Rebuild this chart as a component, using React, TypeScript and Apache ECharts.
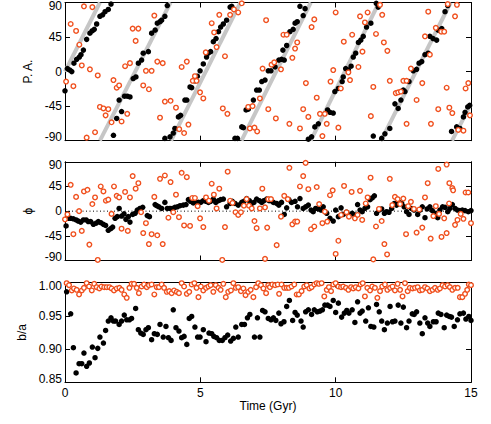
import React, { useEffect, useRef } from 'react';
import * as echarts from 'echarts';

// ---------- data ----------
const timeTicks = [0, 5, 10, 15];
const angleTicks = [-90, -45, 0, 45, 90];
const ratioTicks = [0.85, 0.9, 0.95, 1.0];

// pattern (grey) line segments in panel 1: [t, PA] end points
const patternSegments: number[][][] = [
  [[0, 0], [1.29, 90]],
  [[1.29, -90], [3.9, 90]],
  [[3.92, -90], [6.48, 90]],
  [[6.52, -90], [9.08, 90]],
  [[9.08, -90], [11.6, 90]],
  [[11.68, -90], [14.25, 90]],
  [[14.3, -90], [15, -42]],
];

const paBlack: number[][] = [
  [0.0, -25], [0.09, 4], [0.18, 2], [0.25, 0], [0.33, 11], [0.43, 16], [0.53, 19], [0.59, 22], [0.68, 28], [0.8, 42],
  [0.92, 50], [1.0, 53], [1.08, 55], [1.17, 62], [1.29, 72], [1.39, 74], [1.48, 78], [1.6, 81], [1.7, 88],
  [1.79, -83], [1.91, -61], [2.0, -37], [2.09, -52], [2.2, -32], [2.3, -32], [2.4, -33], [2.52, -9], [2.62, -7],
  [2.71, 11], [2.83, 15], [2.89, 24], [3.08, 26], [3.2, 50], [3.33, 54], [3.41, 63], [3.51, 65], [3.57, 67],
  [3.69, 72], [3.78, 86], [3.69, -87], [3.88, -85], [4.0, -80], [4.06, -74], [4.19, -59], [4.27, -57], [4.43, -37],
  [4.5, -37], [4.62, -20], [4.68, -21], [4.8, -12], [4.89, -6], [4.99, 1], [5.11, 10], [5.23, 19], [5.29, 24],
  [5.38, 26], [5.48, 39], [5.58, 43], [5.67, 52], [5.75, 58], [5.85, 62], [5.97, 67], [6.1, 84], [6.16, 85],
  [6.28, -87], [6.37, -87], [6.53, -72], [6.59, -73], [6.69, -50], [6.77, -49], [6.96, -37], [7.08, -24],
  [7.18, -24], [7.27, -13], [7.39, -11], [7.51, 1], [7.61, 1], [7.76, 6], [7.9, 15], [8.0, 16], [8.1, 15],
  [8.05, 28], [8.19, 34], [8.31, 52], [8.43, 55], [8.5, 63], [8.58, 65], [8.68, 85], [8.8, 73], [8.87, 82],
  [8.99, -88], [9.11, -85], [9.23, -72], [9.36, -68], [9.7, -50], [9.79, -53], [9.91, -54], [9.97, -26],
  [10.1, -22], [10.24, -13], [10.28, -7], [10.37, 4], [10.47, 2], [10.57, 7], [10.65, 19], [10.74, 24],
  [10.84, 38], [10.93, 41], [11.02, 46], [11.14, 58], [11.3, 63], [11.5, 89], [11.57, 84], [11.39, -84],
  [11.7, -87], [11.82, -81], [12.0, -74], [12.19, -42], [12.31, -48], [12.41, -37], [12.5, -24], [12.56, -26],
  [12.71, -13], [12.87, 1], [12.99, 3], [13.08, 11], [13.18, 13], [13.3, 22], [13.42, 24], [13.48, 46],
  [13.6, 43], [13.73, 41], [13.79, 54], [13.92, 56], [14.04, 78], [14.14, 86], [14.28, -78], [14.47, -72],
  [14.59, -74], [14.72, -59], [14.78, -53], [14.88, -46], [14.95, -44],
];

const paOrange: number[][] = [
  [0.04, -13], [0.21, 62], [0.31, -19], [0.41, 53], [0.53, 35], [0.62, 8], [0.7, 85], [0.8, -86], [0.92, 3],
  [1.01, 84], [1.11, -79], [1.21, -5], [1.29, -46], [1.42, -48], [1.5, -57], [1.6, -49], [1.72, -66], [1.79, -11],
  [1.91, -21], [2.0, -18], [2.09, -65], [2.22, 7], [2.3, -55], [2.4, 11], [2.5, 56], [2.61, 40], [2.71, 56],
  [2.89, -18], [2.99, 1], [3.1, -23], [3.2, 1], [3.3, 73], [3.41, 13], [3.51, -60], [3.61, 11], [3.69, -39],
  [3.9, -38], [4.1, -47], [4.22, -75], [4.31, 6], [4.4, -80], [4.5, 13], [4.56, -69], [4.72, -12], [4.8, -6],
  [4.86, -12], [4.99, -27], [5.11, -35], [5.2, 25], [5.42, 63], [5.51, 51], [5.6, 32], [5.7, 74], [5.83, -48],
  [5.91, 20], [6.0, -55], [6.1, 74], [6.24, 81], [6.4, 77], [6.53, 89], [6.77, -46], [6.83, -74], [6.93, -45],
  [7.0, -73], [7.1, -78], [7.2, -35], [7.3, 4], [7.43, 67], [7.51, -49], [7.63, 9], [7.73, 12], [7.79, -61],
  [7.98, 3], [8.07, 48], [8.19, 48], [8.29, -68], [8.4, 18], [8.5, 30], [8.58, 38], [8.68, -74], [8.8, -49],
  [8.9, -15], [8.99, -59], [9.11, 58], [9.21, 68], [9.3, -34], [9.42, -55], [9.51, -84], [9.6, -55], [9.67, -68],
  [9.81, -13], [9.91, 2], [10.0, 77], [10.1, -73], [10.19, -22], [10.3, 39], [10.47, -1], [10.53, -11],
  [10.61, 48], [10.84, 6], [10.9, 72], [10.99, 26], [11.08, 64], [11.18, 77], [11.3, -58], [11.39, -20],
  [11.49, 49], [11.64, 87], [11.72, 74], [11.78, 38], [11.91, 27], [12.0, -12], [12.22, -28], [12.31, -27],
  [12.41, -26], [12.5, -12], [12.62, -12], [12.62, -68], [12.78, 4], [12.99, -37], [13.2, -15], [13.3, 46],
  [13.42, 78], [13.48, 22], [13.52, -68], [13.7, 57], [13.79, -49], [13.9, 52], [14.01, 52], [14.1, -21],
  [14.14, 88], [14.2, -47], [14.31, -54], [14.41, 72], [14.48, 87], [14.53, -76], [14.72, -77], [14.8, -22],
  [14.9, -15], [14.96, -57],
];

const phiBlack: number[][] = [
  [0.04, -27], [0.12, -13], [0.21, -13], [0.31, -14], [0.41, -16], [0.49, -18], [0.58, -20], [0.68, -16],
  [0.78, -16], [0.86, -19], [0.95, -19], [1.05, -24], [1.15, -22], [1.23, -19], [1.32, -21], [1.42, -24],
  [1.5, -26], [1.6, -35], [1.69, -32], [1.76, -29], [1.85, -13], [1.93, -10], [2.0, 5], [2.09, -9], [2.18, -5],
  [2.25, -15], [2.34, -10], [2.4, -20], [2.5, -6], [2.59, -4], [2.67, 2], [2.77, 5], [2.87, 7], [3.04, -8],
  [3.12, -10], [3.33, 12], [3.39, 10], [3.47, 8], [3.57, 5], [3.69, 16], [3.78, 5], [3.88, 5], [3.97, 5],
  [4.06, 7], [4.15, 8], [4.25, 10], [4.37, 11], [4.47, 12], [4.56, 21], [4.64, 18], [4.74, 15], [4.84, 16],
  [4.93, 16], [5.01, 16], [5.11, 19], [5.21, 18], [5.3, 16], [5.38, 18], [5.48, 22], [5.57, 16], [5.67, 19],
  [5.75, 21], [5.85, 22], [5.97, 8], [6.1, 14], [6.18, 18], [6.28, 14], [6.4, 11], [6.53, 16], [6.61, 18],
  [6.71, 23], [6.81, 19], [6.9, 14], [6.98, 16], [7.08, 22], [7.18, 19], [7.27, 16], [7.35, 19], [7.45, 22],
  [7.54, 19], [7.61, 19], [7.7, 16], [7.82, 14], [7.9, 11], [8.0, 16], [8.1, -6], [8.19, 6], [8.27, 21],
  [8.37, 16], [8.5, 18], [8.59, 8], [8.68, 23], [8.8, 5], [8.89, 8], [8.99, 11], [9.09, 2], [9.17, -1],
  [9.26, 5], [9.36, 4], [9.46, 2], [9.54, 8], [9.67, -4], [9.79, -13], [9.91, -18], [10.0, 2], [10.1, -10],
  [10.2, 6], [10.28, -6], [10.4, -2], [10.53, -7], [10.61, -4], [10.71, -7], [10.81, 12], [10.9, 2], [10.98, -1],
  [11.08, 5], [11.18, 8], [11.27, 21], [11.35, 24], [11.43, 28], [11.51, -4], [11.6, 2], [11.7, 4], [11.8, -4],
  [11.88, -1], [11.97, -2], [12.07, 5], [12.17, 14], [12.25, 11], [12.34, 16], [12.44, 14], [12.53, 8],
  [12.62, -1], [12.71, -6], [12.8, 5], [12.9, 2], [13.03, -6], [13.11, 2], [13.2, 8], [13.3, -12], [13.38, 4],
  [13.48, 8], [13.57, 1], [13.67, -4], [13.77, -12], [13.85, 2], [13.95, 8], [14.04, 7], [14.14, -1],
  [14.22, 5], [14.31, 12], [14.41, 5], [14.5, 2], [14.59, 1], [14.68, 2], [14.78, 1], [14.9, -1], [15.0, 1],
];

const phiOrange: number[][] = [
  [0.0, -15], [0.09, -6], [0.21, 48], [0.31, -42], [0.41, 26], [0.52, 0], [0.62, -36], [0.7, 36], [0.83, 39],
  [0.9, -61], [1.01, 13], [1.11, 25], [1.21, -89], [1.32, 45], [1.42, 36], [1.51, 19], [1.6, 21], [1.72, -5],
  [1.81, 45], [1.91, 28], [2.0, 25], [2.09, -32], [2.22, 35], [2.32, -36], [2.4, 25], [2.5, 64], [2.61, 41],
  [2.71, 51], [2.81, -2], [2.89, -40], [2.99, -22], [3.1, -60], [3.2, -42], [3.3, 26], [3.41, -44], [3.51, 59],
  [3.61, -60], [3.69, 65], [3.82, -12], [3.9, 53], [4.0, -2], [4.1, 30], [4.21, -11], [4.31, 70], [4.4, -26],
  [4.5, 62], [4.62, -27], [4.7, 24], [4.8, 24], [4.9, 9], [4.99, -13], [5.11, -29], [5.21, 25], [5.32, 19],
  [5.42, 50], [5.5, 30], [5.6, 5], [5.7, 41], [5.81, -89], [5.91, -29], [6.01, 72], [6.1, 19], [6.19, 15],
  [6.3, -2], [6.4, -7], [6.5, -2], [6.61, 10], [6.71, 22], [6.8, 10], [6.9, 5], [7.0, -18], [7.08, -31],
  [7.2, 5], [7.29, 41], [7.39, 7], [7.47, -30], [7.39, -87], [7.51, 22], [7.61, 22], [7.82, -62], [7.98, -10],
  [8.1, 28], [8.23, 22], [8.29, 79], [8.4, -24], [8.5, -19], [8.58, -19], [8.68, 45], [8.8, 64], [8.89, 88],
  [8.99, 40], [9.09, -33], [9.21, -28], [9.3, 44], [9.39, 13], [9.51, -22], [9.6, -1], [9.69, -19], [9.79, 29],
  [9.89, 38], [10.0, -78], [10.1, -54], [10.2, -7], [10.31, 46], [10.4, -2], [10.49, -10], [10.59, 35],
  [10.71, -13], [10.81, -7], [10.9, 37], [10.98, -16], [11.11, 14], [11.18, 25], [11.29, 61], [11.39, -88],
  [11.49, -28], [11.6, 4], [11.7, -18], [11.8, -60], [11.9, -79], [12.0, 59], [12.09, 11], [12.19, 26],
  [12.29, 22], [12.38, 13], [12.5, 23], [12.6, -42], [12.68, 9], [12.78, 17], [12.89, 4], [12.99, -39],
  [13.09, 3], [13.2, -30], [13.3, 25], [13.4, 51], [13.51, -50], [13.61, -9], [13.7, 9], [13.79, 77],
  [13.82, -5], [13.91, -47], [14.01, -13], [14.1, 85], [14.1, -40], [14.19, 14], [14.2, 51], [14.31, 42],
  [14.34, 38], [14.41, -25], [14.5, -16], [14.62, -5], [14.72, -14], [14.8, 34], [14.9, 34], [15.0, -22],
];

const baBlack: number[][] = [
  [0.06, 0.986], [0.21, 0.953], [0.31, 0.902], [0.41, 0.864], [0.52, 0.878], [0.62, 0.878], [0.7, 0.894],
  [0.8, 0.874], [0.9, 0.879], [1.01, 0.903], [1.11, 0.887], [1.21, 0.901], [1.29, 0.918], [1.42, 0.909],
  [1.5, 0.928], [1.6, 0.942], [1.7, 0.947], [1.79, 0.942], [1.87, 0.942], [2.0, 0.937], [2.09, 0.942],
  [2.19, 0.951], [2.28, 0.944], [2.38, 0.944], [2.46, 0.946], [2.61, 0.961], [2.71, 0.929], [2.8, 0.924],
  [2.89, 0.922], [2.99, 0.929], [3.08, 0.932], [3.2, 0.914], [3.3, 0.923], [3.41, 0.922], [3.51, 0.937],
  [3.63, 0.918], [3.73, 0.934], [3.82, 0.917], [3.92, 0.913], [4.0, 0.959], [4.1, 0.932], [4.21, 0.927],
  [4.31, 0.917], [4.4, 0.919], [4.5, 0.907], [4.59, 0.946], [4.68, 0.949], [4.8, 0.933], [4.9, 0.918],
  [4.99, 0.918], [5.11, 0.929], [5.21, 0.911], [5.32, 0.924], [5.42, 0.923], [5.5, 0.919], [5.6, 0.917],
  [5.7, 0.913], [5.81, 0.913], [5.91, 0.917], [6.01, 0.921], [6.12, 0.912], [6.22, 0.916], [6.31, 0.933],
  [6.4, 0.918], [6.53, 0.937], [6.63, 0.937], [6.74, 0.947], [6.83, 0.952], [7.0, 0.918], [7.11, 0.947],
  [7.2, 0.918], [7.3, 0.958], [7.39, 0.956], [7.51, 0.946], [7.61, 0.944], [7.7, 0.947], [7.79, 0.943],
  [7.9, 0.954], [7.98, 0.938], [8.09, 0.941], [8.19, 0.964], [8.29, 0.973], [8.41, 0.943], [8.5, 0.955],
  [8.58, 0.951], [8.72, 0.942], [8.8, 0.933], [8.89, 0.956], [8.99, 0.959], [9.11, 0.952], [9.21, 0.959],
  [9.32, 0.956], [9.42, 0.957], [9.51, 0.959], [9.6, 0.966], [9.7, 0.966], [9.79, 0.964], [9.91, 0.973],
  [10.0, 0.955], [10.1, 0.969], [10.22, 0.948], [10.32, 0.954], [10.41, 0.958], [10.49, 0.954], [10.61, 0.959],
  [10.71, 0.94], [10.81, 0.971], [10.9, 0.954], [10.98, 0.957], [11.11, 0.942], [11.21, 0.962], [11.3, 0.934],
  [11.41, 0.933], [11.51, 0.967], [11.61, 0.956], [11.7, 0.942], [11.8, 0.929], [11.91, 0.939], [12.01, 0.964],
  [12.1, 0.941], [12.19, 0.942], [12.31, 0.966], [12.41, 0.939], [12.5, 0.963], [12.62, 0.932], [12.71, 0.942],
  [12.83, 0.953], [12.9, 0.952], [12.99, 0.956], [13.11, 0.939], [13.2, 0.923], [13.3, 0.947], [13.4, 0.939],
  [13.48, 0.934], [13.61, 0.941], [13.71, 0.941], [13.79, 0.954], [13.89, 0.952], [14.01, 0.932], [14.1, 0.951],
  [14.2, 0.949], [14.28, 0.948], [14.38, 0.934], [14.5, 0.944], [14.59, 0.953], [14.72, 0.954], [14.81, 0.945],
  [14.92, 0.949], [15.0, 0.943],
];

const baOrange: number[][] = [
  [0.06, 0.999], [0.15, 0.996], [0.25, 0.988], [0.33, 0.991], [0.43, 0.989], [0.52, 0.982], [0.62, 0.988],
  [0.7, 0.992], [0.8, 0.999], [0.89, 0.994], [0.99, 0.988], [1.08, 0.998], [1.17, 0.993], [1.27, 0.991],
  [1.35, 0.994], [1.45, 0.993], [1.54, 0.993], [1.64, 0.993], [1.72, 0.991], [1.81, 0.988], [1.91, 0.991],
  [2.01, 0.992], [2.09, 0.989], [2.19, 0.982], [2.28, 0.977], [2.38, 0.992], [2.46, 0.998], [2.55, 0.998],
  [2.65, 0.992], [2.73, 0.984], [2.83, 0.994], [2.92, 0.997], [3.02, 0.993], [3.1, 0.996], [3.2, 0.997],
  [3.3, 0.982], [3.39, 0.993], [3.47, 0.993], [3.57, 0.997], [3.66, 0.992], [3.76, 0.986], [3.85, 0.987],
  [3.94, 0.984], [4.03, 0.988], [4.13, 0.986], [4.21, 0.984], [4.31, 0.999], [4.4, 0.994], [4.5, 0.983],
  [4.59, 0.986], [4.68, 0.997], [4.78, 0.999], [4.86, 0.992], [4.93, 0.978], [5.02, 0.994], [5.11, 0.988],
  [5.21, 0.992], [5.3, 0.994], [5.38, 0.996], [5.48, 0.986], [5.57, 0.996], [5.67, 0.992], [5.75, 0.989],
  [5.85, 0.998], [5.94, 0.978], [6.03, 0.986], [6.13, 0.988], [6.22, 0.999], [6.31, 0.992], [6.4, 0.993],
  [6.5, 0.987], [6.59, 0.991], [6.67, 0.981], [6.77, 0.986], [6.86, 0.989], [6.96, 0.978], [7.06, 0.993],
  [7.14, 0.999], [7.24, 0.996], [7.33, 0.991], [7.43, 0.984], [7.51, 0.996], [7.57, 0.993], [7.66, 0.997],
  [7.76, 0.996], [7.86, 0.997], [7.91, 0.983], [8.0, 0.997], [8.1, 0.992], [8.19, 0.992], [8.27, 0.992],
  [8.37, 0.994], [8.47, 0.997], [8.56, 0.982], [8.64, 0.982], [8.74, 0.987], [8.84, 0.994], [8.93, 0.996],
  [9.03, 0.991], [9.11, 0.993], [9.21, 0.997], [9.3, 0.999], [9.38, 0.998], [9.48, 0.999], [9.58, 0.979],
  [9.67, 0.989], [9.75, 0.993], [9.83, 0.987], [9.91, 0.997], [10.0, 0.999], [10.1, 0.994], [10.2, 0.993],
  [10.28, 0.994], [10.38, 0.992], [10.47, 0.989], [10.57, 0.993], [10.65, 0.991], [10.74, 0.993], [10.84, 0.991],
  [10.92, 0.997], [11.0, 0.999], [11.08, 0.979], [11.17, 0.992], [11.27, 0.988], [11.35, 0.994], [11.45, 0.992],
  [11.54, 0.977], [11.64, 0.987], [11.72, 0.994], [11.82, 0.997], [11.91, 0.989], [12.01, 0.992], [12.1, 0.994],
  [12.19, 0.988], [12.29, 0.998], [12.38, 0.989], [12.47, 0.979], [12.56, 0.999], [12.66, 0.987], [12.74, 0.992],
  [12.84, 0.991], [12.93, 0.992], [13.03, 0.993], [13.11, 0.988], [13.2, 0.989], [13.3, 0.993], [13.39, 0.991],
  [13.48, 0.987], [13.58, 0.989], [13.67, 0.992], [13.77, 0.989], [13.85, 0.991], [13.95, 0.996], [14.04, 0.994],
  [14.14, 0.996], [14.22, 0.993], [14.31, 0.989], [14.41, 0.992], [14.51, 0.992], [14.59, 0.978], [14.68, 0.978],
  [14.78, 0.983], [14.86, 0.989], [14.92, 0.997], [15.0, 0.996],
];

// ---------- styling helpers ----------
const FONT = '"Liberation Sans", Arial, Helvetica, sans-serif';
const BLACK = '#000000';
const ORANGE = '#f0501e';
const GREY = '#c6c6c6';

const GRIDS = [
  { left: 65, right: 20, top: 2, height: 138.7 },
  { left: 65, right: 20, top: 161.8, height: 98.7 },
  { left: 65, right: 20, top: 282.5, height: 99.8 },
];

function edgeLabel(min: number, max: number, fmt: (v: number) => string) {
  return {
    show: true,
    margin: 3,
    color: BLACK,
    fontSize: 12,
    fontFamily: FONT,
    formatter: (v: number) => {
      const s = fmt(v);
      if (Math.abs(v - max) < 1e-6) return `{t|${s}}`;
      if (Math.abs(v - min) < 1e-6) return `{b|${s}}`;
      return s;
    },
    rich: {
      t: { padding: [7, 0, 0, 0], fontSize: 12, fontFamily: FONT, color: BLACK },
      b: { padding: [0, 0, 7, 0], fontSize: 12, fontFamily: FONT, color: BLACK },
    },
  };
}

const axisLine = { show: true, onZero: false, lineStyle: { color: BLACK, width: 1 } };
const axisTick = { show: true, inside: true, length: 5, lineStyle: { color: BLACK, width: 1 } };

export default function App() {
  const ref = useRef<HTMLDivElement>(null);

  useEffect(() => {
    document.body.style.margin = '0';
    if (!ref.current) return;
    const chart = echarts.init(ref.current, null, { renderer: 'svg' });

    const xAxes: any[] = [];
    const yAxes: any[] = [];
    GRIDS.forEach((_, i) => {
      const isBottom = i === 2;
      xAxes.push({
        type: 'value', gridIndex: i, position: 'bottom', min: 0, max: 15, interval: 5,
        axisLine, axisTick, splitLine: { show: false },
        axisLabel: isBottom
          ? { show: true, margin: 5, color: BLACK, fontSize: 12, fontFamily: FONT, formatter: (v: number) => (timeTicks.includes(v) ? String(v) : '') }
          : { show: false },
        name: isBottom ? 'Time (Gyr)' : '',
        nameLocation: 'middle', nameGap: 18,
        nameTextStyle: { color: BLACK, fontSize: 12, fontFamily: FONT },
      });
      xAxes.push({
        type: 'value', gridIndex: i, position: 'top', min: 0, max: 15, interval: 5,
        axisLine, axisTick, splitLine: { show: false }, axisLabel: { show: false },
      });
    });

    const yDefs = [
      { name: 'P. A.', min: -90, max: 90, interval: 45, gap: 27, fmt: (v: number) => String(v) },
      { name: 'ϕ', min: -90, max: 90, interval: 45, gap: 29, fmt: (v: number) => String(v) },
      { name: 'b/a', min: 0.85, max: 1.0, interval: 0.05, gap: 37, fmt: (v: number) => v.toFixed(2) },
    ];
    yDefs.forEach((d, i) => {
      yAxes.push({
        type: 'value', gridIndex: i, position: 'left', min: d.min, max: d.max, interval: d.interval,
        axisLine, axisTick, splitLine: { show: false },
        axisLabel: edgeLabel(d.min, d.max, d.fmt),
        name: d.name, nameLocation: 'middle', nameGap: d.gap, nameRotate: 90,
        nameTextStyle: { color: BLACK, fontSize: 12, fontFamily: FONT },
      });
      yAxes.push({
        type: 'value', gridIndex: i, position: 'right', min: d.min, max: d.max, interval: d.interval,
        axisLine, axisTick, splitLine: { show: false }, axisLabel: { show: false },
      });
    });

    const blackScatter = (xi: number, yi: number, data: number[][]) => ({
      type: 'scatter', xAxisIndex: xi, yAxisIndex: yi, data, symbol: 'circle', symbolSize: 5.5,
      itemStyle: { color: BLACK, opacity: 1 }, clip: false, z: 3,
    });
    const orangeScatter = (xi: number, yi: number, data: number[][]) => ({
      type: 'scatter', xAxisIndex: xi, yAxisIndex: yi, data, symbol: 'circle', symbolSize: 4.6,
      itemStyle: { color: '#ffffff', borderColor: ORANGE, borderWidth: 1.4, opacity: 1 }, clip: false, z: 4,
    });

    const series: any[] = [];
    patternSegments.forEach((seg) => {
      series.push({
        type: 'line', xAxisIndex: 0, yAxisIndex: 0, data: seg, symbol: 'none', clip: true,
        lineStyle: { color: GREY, width: 4 }, z: 2, silent: true,
      });
    });
    series.push(blackScatter(0, 0, paBlack));
    series.push(orangeScatter(0, 0, paOrange));

    series.push({
      type: 'line', xAxisIndex: 2, yAxisIndex: 2, data: [[0, 0], [15, 0]], symbol: 'none',
      lineStyle: { color: BLACK, width: 1, type: [1, 2.5] }, z: 2, silent: true,
    });
    series.push(blackScatter(2, 2, phiBlack));
    series.push(orangeScatter(2, 2, phiOrange));

    series.push(blackScatter(4, 4, baBlack));
    series.push(orangeScatter(4, 4, baOrange));

    chart.setOption({
      animation: false,
      backgroundColor: '#ffffff',
      grid: GRIDS,
      xAxis: xAxes,
      yAxis: yAxes,
      series,
    });

    return () => chart.dispose();
  }, []);

  return <div ref={ref} style={{ width: 491, height: 424 }} />;
}
